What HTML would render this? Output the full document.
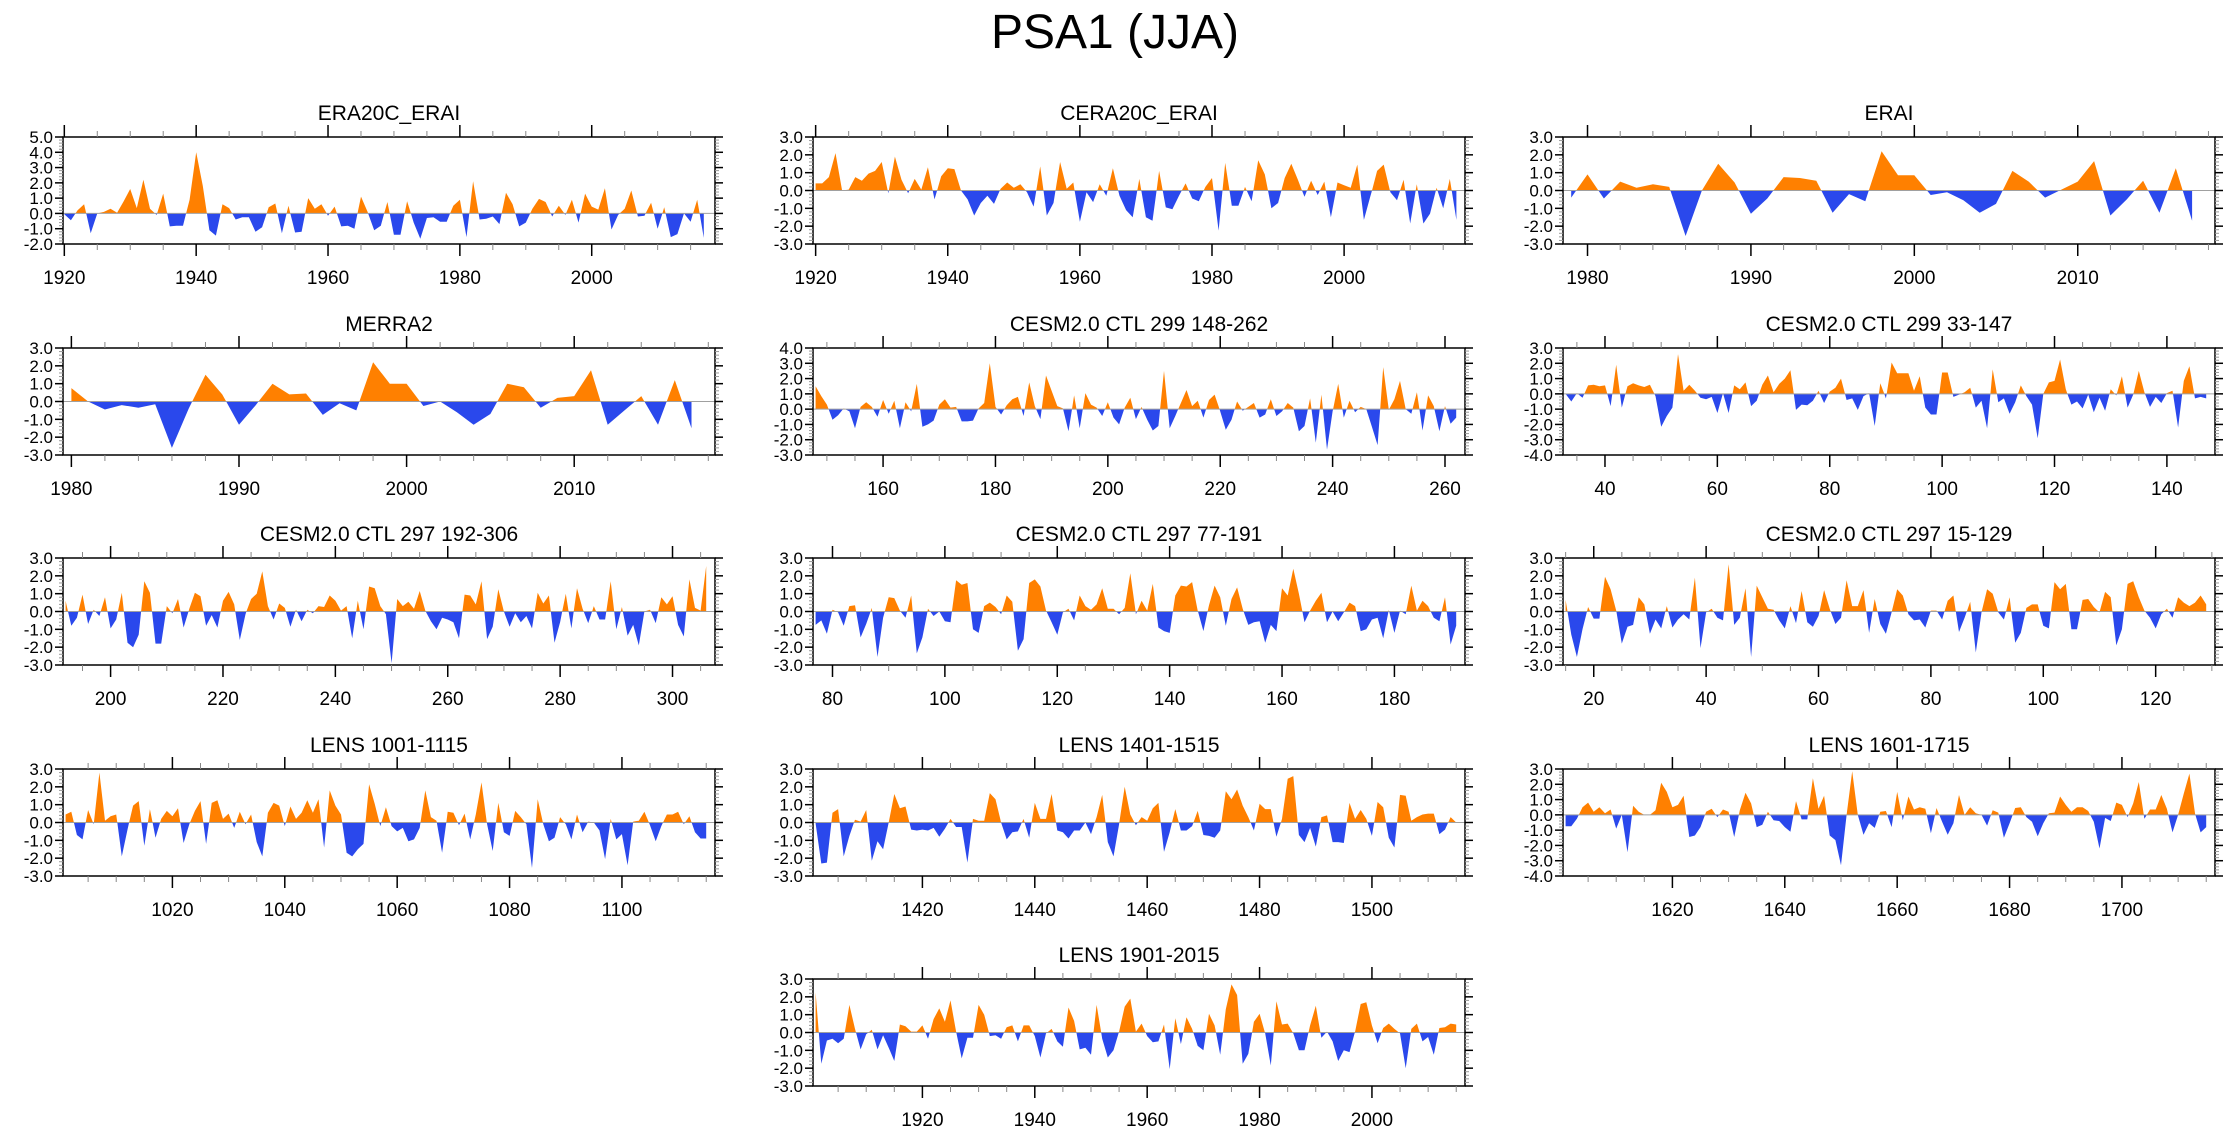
<!DOCTYPE html>
<html><head><meta charset="utf-8"><title>PSA1 (JJA)</title>
<style>html,body{margin:0;padding:0;background:#fff;}svg{display:block;font-family:"Liberation Sans",Arial,sans-serif;}</style>
</head><body>
<svg id="chart" width="2230" height="1133" viewBox="0 0 2230 1133" xmlns="http://www.w3.org/2000/svg">
<rect width="2230" height="1133" fill="#fff"/>
<text x="1115" y="48" text-anchor="middle" font-size="48">PSA1 (JJA)</text>
</svg>
<script>
// ---- data (one value per year, starting at the given first year) ----
const era20cStart = 1920;
const era20cVals = [-0.05,-0.45,0.2,0.6,-1.3,0.0,0.1,0.3,0.05,0.8,1.6,0.35,2.2,0.3,-0.1,1.3,-0.85,-0.8,-0.8,0.9,4.0,1.8,-1.1,-1.45,0.6,0.35,-0.4,-0.25,-0.25,-1.2,-0.9,0.4,0.65,-1.3,0.5,-1.25,-1.2,1.0,0.3,0.6,-0.15,0.45,-0.85,-0.8,-1.0,1.1,0.1,-1.1,-0.8,0.75,-1.4,-1.4,0.8,-0.6,-1.65,-0.3,-0.25,-0.55,-0.55,0.5,0.9,-1.55,2.1,-0.4,-0.35,-0.2,-0.7,1.35,0.6,-0.85,-0.6,0.3,0.95,0.75,-0.2,0.5,-0.1,0.9,-0.6,1.3,0.45,0.25,1.65,-1.05,-0.1,0.3,1.5,-0.2,-0.15,0.7,-1.0,0.4,-1.55,-1.35,0.0,-0.55,0.9,-1.6];
const ceraStart = 1920;
const ceraVals = [0.4,0.4,0.75,2.1,0.0,0.05,0.75,0.55,0.95,1.1,1.6,-0.15,1.9,0.6,-0.15,0.65,0.05,1.3,-0.5,0.8,1.25,1.2,0.0,-0.5,-1.4,-0.7,-0.3,-0.75,0.1,0.45,0.15,0.35,-0.1,-0.9,1.35,-1.4,-0.7,1.6,0.1,0.45,-1.75,-0.1,-0.65,0.35,-0.3,1.25,-0.3,-1.1,-1.5,0.65,-1.5,-1.7,1.1,-0.95,-1.05,-0.3,0.4,-0.45,-0.6,0.2,0.7,-2.25,1.55,-0.85,-0.85,0.2,-0.6,1.7,0.9,-1.0,-0.7,0.7,1.5,0.6,-0.35,0.55,-0.25,0.5,-1.5,0.45,0.3,0.15,1.45,-1.65,-0.3,1.1,1.45,-0.1,-0.55,0.6,-1.85,0.35,-1.85,-1.3,0.15,-1.0,0.65,-1.65];
const eraiStart = 1979;
const eraiVals = [-0.4,0.9,-0.45,0.5,0.15,0.35,0.2,-2.55,0.0,1.5,0.45,-1.3,-0.45,0.75,0.7,0.55,-1.25,-0.2,-0.6,2.2,0.85,0.85,-0.25,-0.1,-0.55,-1.25,-0.75,1.1,0.5,-0.4,0.05,0.5,1.65,-1.4,-0.5,0.55,-1.25,1.25,-1.7];
const merraStart = 1980;
const merraVals = [0.75,0.0,-0.45,-0.2,-0.35,-0.15,-2.6,-0.4,1.5,0.4,-1.3,-0.2,1.0,0.4,0.45,-0.75,-0.1,-0.5,2.2,1.0,1.0,-0.25,0.0,-0.6,-1.3,-0.7,1.0,0.8,-0.35,0.2,0.3,1.75,-1.3,-0.5,0.3,-1.3,1.2,-1.5];
const c299aStart = 148;
const c299aVals = [1.5,0.85,0.3,-0.7,-0.4,0.05,-0.15,-1.25,0.15,0.45,0.15,-0.5,0.6,-0.3,0.55,-1.25,0.45,-0.15,1.65,-1.15,-1.0,-0.75,0.3,0.65,0.1,0.15,-0.8,-0.8,-0.75,0.05,0.4,3.0,0.15,-0.35,0.25,0.65,0.8,-0.45,1.75,0.2,-0.65,2.2,1.2,0.2,0.05,-1.45,0.9,-1.25,1.05,0.3,0.1,-0.45,0.45,-0.55,-1.0,0.1,0.75,-0.65,0.15,-0.7,-1.4,-1.1,2.5,-1.25,-0.45,0.4,1.25,0.2,0.55,-0.55,0.6,0.95,-0.15,-1.35,-0.7,0.5,-0.1,0.15,0.4,-0.55,-0.35,0.65,-0.45,-0.15,0.4,0.1,-1.45,-1.1,0.7,-2.2,0.95,-2.65,-0.15,1.65,-0.55,0.55,-0.2,0.15,0.0,-1.15,-2.35,2.75,-0.05,0.65,1.85,0.0,-0.3,1.1,-1.4,0.9,0.2,-1.45,0.2,-0.95,-0.55];
const c299bStart = 33;
const c299bVals = [0,-0.5,0.05,-0.25,0.55,0.6,0.5,0.55,-0.8,1.9,-0.9,0.5,0.7,0.55,0.45,0.6,-0.15,-2.15,-1.45,-0.9,2.6,0.2,0.6,0.2,-0.25,-0.35,-0.2,-1.25,0.05,-1.25,0.55,0.3,0.75,-0.8,-0.45,0.6,1.2,0.1,0.65,1.0,1.55,-1.05,-0.7,-0.75,-0.45,0.2,-0.6,0.15,0.4,1.0,-0.4,-0.3,-1.05,-0.15,0.05,-2.1,0.7,-0.3,2.05,1.35,1.35,1.35,0.2,1.15,-0.9,-1.35,-1.35,1.4,1.4,-0.2,-0.05,0.1,0.4,-0.9,-0.45,-2.25,1.6,-0.55,-0.3,-1.3,-0.55,0.55,-0.15,-0.7,-2.9,0,0.75,0.85,2.25,0.3,-0.7,-0.5,-0.95,-0.05,-1.2,-0.25,-1.1,0.3,-0.1,1.15,-0.9,-0.05,1.5,0.1,-0.85,-0.2,-0.6,0.05,0.2,-2.2,0.85,1.8,-0.3,-0.2,-0.3];
const c297aStart = 192;
const c297aVals = [0.6,-0.8,-0.35,0.95,-0.7,0.1,-0.25,0.8,-0.95,-0.45,1.05,-1.75,-2.0,-1.3,1.7,1.05,-1.8,-1.8,0.3,-0.1,0.7,-0.9,0.15,1.05,0.85,-0.8,-0.2,-0.9,0.6,1.1,0.4,-1.6,-0.15,0.7,1.0,2.25,0.3,-0.45,0.45,0.2,-0.85,0.1,-0.55,0.1,-0.1,0.3,0.25,0.9,0.6,0.05,0.3,-1.5,0.6,-1.0,1.4,1.3,0.3,-0.15,-2.9,0.7,0.3,0.55,0.15,1.15,0.05,-0.55,-1.0,-0.35,-0.45,-0.6,-1.5,0.95,0.9,0.4,1.7,-1.55,-0.85,1.25,0,-0.85,-0.1,-0.6,-0.25,-0.95,1.05,0.45,0.9,-1.75,-0.6,1.0,-0.95,1.3,0.15,-0.65,0.3,-0.45,-0.45,1.7,-1.0,0.25,-1.35,-0.75,-1.9,0,0.1,-0.65,0.8,0.4,0.85,-0.75,-1.4,1.8,0.2,0.05,2.55];
const c297bStart = 77;
const c297bVals = [-0.75,-0.5,-1.25,0.1,-0.05,-0.8,0.3,0.35,-1.45,-0.7,0.2,-2.55,-0.35,0.8,0.75,0.05,-0.35,0.9,-2.35,-1.45,0.15,-0.25,0,-0.55,-0.6,1.75,1.5,1.6,-1.0,-1.2,0.3,0.5,0.25,-0.15,0.9,0.55,-2.2,-1.55,1.6,1.8,1.4,0.05,-0.6,-1.3,-0.05,0.15,-0.5,0.9,0.3,0.1,0.4,1.3,0.15,0.15,-0.15,0.2,2.15,-0.15,0.6,0.05,1.55,-0.9,-1.1,-1.2,0.9,1.45,1.4,1.65,0.05,-1.1,0.35,1.45,0.8,-0.8,0.7,1.35,0.15,-0.75,-0.6,-0.55,-1.75,-0.75,-1.1,1.3,0.9,2.4,1.0,-0.6,0.05,0.6,1.05,-0.6,0,-0.55,-0.05,0.5,0.3,-1.1,-1.0,-0.45,-0.35,-1.5,0.1,-1.2,0.05,-0.15,1.45,0.05,0.6,0.3,-0.35,-0.55,0.8,-1.85,-0.8];
const c297cStart = 15;
const c297cVals = [0.65,-1.3,-2.55,-1.0,0.25,-0.4,-0.4,1.95,1.25,0.05,-1.8,-0.85,-0.75,0.8,0.4,-1.25,-0.45,-0.95,0.3,-0.9,-0.45,-0.15,-0.45,1.9,-2.05,-0.05,0.15,-0.35,-0.5,2.65,-0.75,-0.35,1.3,-2.55,1.45,0.8,0.15,0.1,-0.5,-0.95,0.3,-0.65,1.15,-0.6,-0.85,-0.25,1.2,0.15,-0.7,-0.35,1.75,0.3,0.3,1.2,-1.2,0.7,-0.7,-1.25,-0.05,1.25,0.9,-0.15,-0.5,-0.45,-0.9,0.05,0.05,-0.45,0.6,0.9,-1.15,-0.35,0.55,-2.3,-0.05,1.25,1.0,-0.05,-0.45,0.8,-1.75,-1.2,0.2,0.4,0.4,-0.8,-0.95,1.65,1.25,1.55,-1.0,-1.0,0.65,0.7,0.25,-0.05,1.1,0.8,-1.9,-1.0,1.55,1.7,0.8,0.05,-0.35,-0.95,-0.15,0.15,-0.35,0.8,0.5,0.3,0.5,0.9,0.4];
const lensAStart = 1001;
const lensAVals = [0.45,0.6,-0.7,-0.95,0.7,-0.1,2.8,0.1,0.35,0.45,-1.9,-0.4,0.95,1.2,-1.3,0.75,-0.85,0.2,0.65,0.35,0.8,-1.15,-0.1,0.65,1.2,-1.2,1.1,1.25,0.2,0.5,-0.3,0.6,-0.1,0.45,-1.1,-1.9,0.55,1.1,0.95,-0.2,0.9,0.2,0.55,1.25,0.55,1.3,-1.4,1.8,0.95,0.45,-1.7,-1.9,-1.5,-1.2,2.15,1.05,-0.2,0.85,-0.2,-0.5,-0.3,-1.05,-0.95,-0.3,1.8,0.3,0.1,-1.7,0.6,0.55,-0.15,0.5,-0.95,0.45,2.25,-0.1,-1.6,1.1,-0.55,-0.75,0.65,0.3,-0.1,-2.55,1.3,-0.1,-1.05,-0.85,0.3,-0.1,-0.95,0.45,-0.55,0.05,0,-0.45,-2.05,0.2,-0.95,-0.65,-2.4,0.05,0.1,0.6,-0.15,-1.05,-0.2,0.45,0.45,0.6,-0.1,0.35,-0.55,-0.9,-0.9];
const lensBStart = 1401;
const lensBVals = [-0.05,-2.3,-2.25,0.55,0.75,-1.9,-0.75,0.15,0.05,0.7,-2.15,-1.05,-1.5,0,1.6,0.8,0.9,-0.4,-0.45,-0.4,-0.45,-0.3,-0.8,-0.35,0.2,-0.25,-0.25,-2.25,0.2,0.1,0.1,1.65,1.3,0,-0.95,-0.55,-0.5,0.2,-0.85,1.1,0.2,0.2,1.6,-0.45,-0.55,-0.9,-0.45,-0.45,0,-0.65,0.3,1.55,-1.1,-1.9,-0.1,2.0,0.45,-0.15,0.3,0.1,0.8,1.1,-1.65,-0.55,0.75,-0.45,-0.45,-0.2,0.65,-0.7,-0.75,-0.85,-0.45,1.75,1.3,1.85,0.95,0.3,-0.45,1.05,0.75,0.75,-0.8,0.2,2.45,2.6,-0.7,-1.1,-0.3,-1.35,0.3,0.4,-1.1,-1.1,-1.15,1.1,0.2,0.7,0.2,-0.75,1.15,0.85,-0.85,-1.4,1.55,1.5,0.1,0.3,0.45,0.5,0.5,-0.65,-0.4,0.3,0];
const lensCStart = 1601;
const lensCVals = [-0.75,-0.75,-0.25,0.5,0.8,0.2,0.5,0.1,0.35,-0.9,0,-2.45,0.6,0.2,0,0,0.3,2.1,1.5,0.5,0.65,1.25,-1.45,-1.35,-0.8,0.2,0.4,-0.15,0.35,0.2,-1.45,0.3,1.45,0.75,-0.8,-0.65,0.2,-0.35,-0.4,-0.8,-1.1,0.9,-0.3,-0.3,2.4,0.4,1.25,-1.35,-1.65,-3.3,0,2.85,0,-1.3,-0.55,-0.85,0.2,0.25,-0.8,1.5,-0.35,1.2,0.35,0.5,0.4,-1.2,0.45,-0.45,-1.3,-0.55,1.3,0,0.5,0.1,0,-0.7,0.3,0.15,-1.5,-0.55,0.45,0.5,-0.15,-0.45,-1.4,-0.55,0.1,0.15,1.2,0.65,0.2,0.5,0.5,0.25,-0.45,-2.2,-0.2,-0.4,0.8,0.65,-0.15,0.75,2.15,-0.25,0.35,0.35,1.3,0.4,-1.15,0,1.4,2.7,0.1,-1.15,-0.8];
const lensDStart = 1901;
const lensDVals = [2.25,-1.75,-0.45,-0.35,-0.6,-0.35,1.55,0.2,-0.95,-0.1,0.15,-0.95,-0.15,-0.85,-1.6,0.45,0.35,0.05,0.05,0.4,-0.35,0.75,1.35,0.6,1.8,0.05,-1.45,-0.3,-0.3,1.55,1.0,-0.2,-0.15,-0.35,0.3,0.4,-0.5,0.4,0.4,-0.2,-1.4,-0.05,0.2,-0.5,-0.8,1.4,0.65,-0.95,-0.85,-1.25,1.55,-0.35,-1.4,-1.0,0.05,1.45,1.9,0.05,0.5,-0.2,-0.55,-0.5,0.45,-2.05,0.8,-0.65,0.85,0.2,-0.75,-1.0,1.05,0.4,-1.25,1.3,2.7,2.1,-1.75,-1.2,0.6,1.05,-0.05,-1.85,1.75,0.45,0.5,-0.05,-1.0,-1.0,0.4,1.5,-0.3,0.05,-0.5,-1.6,-1.0,-1.1,0.05,1.6,1.7,0.4,-0.6,0.25,0.5,0.2,-0.05,-2.0,0.2,0.5,-0.5,-0.25,-1.25,0.25,0.3,0.5,0.45];

// tick label arrays
const ticks20c = [1920,1940,1960,1980,2000];
const ticksErai = [1980,1990,2000,2010];
const ticksA = [160,180,200,220,240,260];
const ticksB = [40,60,80,100,120,140];
const ticksC = [200,220,240,260,280,300];
const ticksD = [80,100,120,140,160,180];
const ticksE = [20,40,60,80,100,120];
const ticksLA = [1020,1040,1060,1080,1100];
const ticksLB = [1420,1440,1460,1480,1500];
const ticksLC = [1620,1640,1660,1680,1700];
const ticksLD = [1920,1940,1960,1980,2000];

const NS = 'http://www.w3.org/2000/svg';
const svg = document.getElementById('chart');
const COLX = [63, 813, 1563], ROWY = [137, 348, 558, 769, 979], PW = 652, PH = 107;

function mk(tag, attrs, parent) {
  const e = document.createElementNS(NS, tag);
  for (const k in attrs) e.setAttribute(k, attrs[k]);
  parent.appendChild(e);
  return e;
}

function drawPanel(o) {
  const g = mk('g', {}, svg);
  
  
  const x0 = COLX[o.col], y0 = ROWY[o.row];
  const n = o.vals.length;
  const xmin = o.start - o.padL, xmax = o.start + n - 1 + o.padR;
  const xs = t => x0 + (t - xmin) / (xmax - xmin) * PW;
  const ys = v => y0 + (o.ymax - v) / (o.ymax - o.ymin) * PH;

  const tt = mk('text', {x: x0 + PW / 2, y: y0 - 17, 'text-anchor': 'middle', 'font-size': 21}, g);
  tt.textContent = o.title;
  
  

  const pts = [];
  for (let i = 0; i < n; i++) {
    const t = o.start + i, v = o.vals[i];
    if (i > 0) {
      const vp = o.vals[i - 1];
      if (vp * v < 0) pts.push([t - 1 + vp / (vp - v), 0]);
    }
    pts.push([t, v]);
  }
  const t0 = o.start, t1 = o.start + n - 1;
  let dp = 'M' + xs(t0).toFixed(1) + ' ' + ys(0).toFixed(1);
  let dn = dp;
  for (const [t, v] of pts) {
    dp += ' L' + xs(t).toFixed(1) + ' ' + ys(Math.max(v, 0)).toFixed(1);
    dn += ' L' + xs(t).toFixed(1) + ' ' + ys(Math.min(v, 0)).toFixed(1);
  }
  dp += ' L' + xs(t1).toFixed(1) + ' ' + ys(0).toFixed(1) + ' Z';
  dn += ' L' + xs(t1).toFixed(1) + ' ' + ys(0).toFixed(1) + ' Z';
  const pa = mk('path', {d: dp, fill: '#ff8000'}, g);
  
  
  const na = mk('path', {d: dn, fill: '#2a48ec'}, g);
  
  

  const zl = mk('line', {x1: x0, x2: x0 + PW, y1: ys(0), y2: ys(0), stroke: '#a0a0a0', 'stroke-width': 1}, g);
  
  

  const fr = mk('rect', {x: x0, y: y0, width: PW, height: PH, fill: 'none', stroke: '#000', 'stroke-width': 1.5}, g);
  
  

  for (let t = Math.ceil(xmin / o.minor) * o.minor; t <= xmax; t += o.minor) {
    const X = xs(t);
    const major = t % o.major === 0;
    const L = major ? 12 : 6;
    const col = major ? '#000' : '#888';
    mk('line', {x1: X, x2: X, y1: y0, y2: y0 - L, stroke: col, 'stroke-width': major ? 1.5 : 1}, g);
    mk('line', {x1: X, x2: X, y1: y0 + PH, y2: y0 + PH + L, stroke: col, 'stroke-width': major ? 1.5 : 1}, g);
  }
  for (const t of o.ticks) {
    const lb = mk('text', {x: xs(t), y: y0 + PH + 40, 'text-anchor': 'middle', 'font-size': 19}, g);
    lb.textContent = String(t);
    
    
  }
  for (let k = Math.round(o.ymin * 5); k <= Math.round(o.ymax * 5); k++) {
    const v = k / 5, Y = ys(v);
    const major = k % 5 === 0;
    const L = major ? 8 : 4;
    const col = major ? '#000' : '#999';
    mk('line', {x1: x0, x2: x0 - L, y1: Y, y2: Y, stroke: col, 'stroke-width': major ? 1.5 : 1}, g);
    mk('line', {x1: x0 + PW, x2: x0 + PW + L, y1: Y, y2: Y, stroke: col, 'stroke-width': major ? 1.5 : 1}, g);
    if (major) {
      const lb = mk('text', {x: x0 - 10, y: Y + 6, 'text-anchor': 'end', 'font-size': 17}, g);
      lb.textContent = v.toFixed(1);
      
      
    }
  }
}

drawPanel({name:'panel-era20c-erai', title:'ERA20C_ERAI', col:0, row:0, start:era20cStart, vals:era20cVals, padL:0.2, padR:1.7, ymin:-2, ymax:5, ticks:ticks20c, major:20, minor:5});
drawPanel({name:'panel-cera20c-erai', title:'CERA20C_ERAI', col:1, row:0, start:ceraStart, vals:ceraVals, padL:0.4, padR:1.3, ymin:-3, ymax:3, ticks:ticks20c, major:20, minor:5});
drawPanel({name:'panel-erai', title:'ERAI', col:2, row:0, start:eraiStart, vals:eraiVals, padL:0.5, padR:1.4, ymin:-3, ymax:3, ticks:ticksErai, major:10, minor:2});
drawPanel({name:'panel-merra2', title:'MERRA2', col:0, row:1, start:merraStart, vals:merraVals, padL:0.5, padR:1.4, ymin:-3, ymax:3, ticks:ticksErai, major:10, minor:2});
drawPanel({name:'panel-cesm-299-148-262', title:'CESM2.0 CTL 299 148-262', col:1, row:1, start:c299aStart, vals:c299aVals, padL:0.47, padR:1.56, ymin:-3, ymax:4, ticks:ticksA, major:20, minor:5});
drawPanel({name:'panel-cesm-299-33-147', title:'CESM2.0 CTL 299 33-147', col:2, row:1, start:c299bStart, vals:c299bVals, padL:0.47, padR:1.56, ymin:-4, ymax:3, ticks:ticksB, major:20, minor:5});
drawPanel({name:'panel-cesm-297-192-306', title:'CESM2.0 CTL 297 192-306', col:0, row:2, start:c297aStart, vals:c297aVals, padL:0.47, padR:1.56, ymin:-3, ymax:3, ticks:ticksC, major:20, minor:5});
drawPanel({name:'panel-cesm-297-77-191', title:'CESM2.0 CTL 297 77-191', col:1, row:2, start:c297bStart, vals:c297bVals, padL:0.47, padR:1.56, ymin:-3, ymax:3, ticks:ticksD, major:20, minor:5});
drawPanel({name:'panel-cesm-297-15-129', title:'CESM2.0 CTL 297 15-129', col:2, row:2, start:c297cStart, vals:c297cVals, padL:0.47, padR:1.56, ymin:-3, ymax:3, ticks:ticksE, major:20, minor:5});
drawPanel({name:'panel-lens-1001-1115', title:'LENS 1001-1115', col:0, row:3, start:lensAStart, vals:lensAVals, padL:0.47, padR:1.56, ymin:-3, ymax:3, ticks:ticksLA, major:20, minor:5});
drawPanel({name:'panel-lens-1401-1515', title:'LENS 1401-1515', col:1, row:3, start:lensBStart, vals:lensBVals, padL:0.47, padR:1.56, ymin:-3, ymax:3, ticks:ticksLB, major:20, minor:5});
drawPanel({name:'panel-lens-1601-1715', title:'LENS 1601-1715', col:2, row:3, start:lensCStart, vals:lensCVals, padL:0.47, padR:1.56, ymin:-4, ymax:3, ticks:ticksLC, major:20, minor:5});
drawPanel({name:'panel-lens-1901-2015', title:'LENS 1901-2015', col:1, row:4, start:lensDStart, vals:lensDVals, padL:0.47, padR:1.56, ymin:-3, ymax:3, ticks:ticksLD, major:20, minor:5});
</script>
</body></html>
